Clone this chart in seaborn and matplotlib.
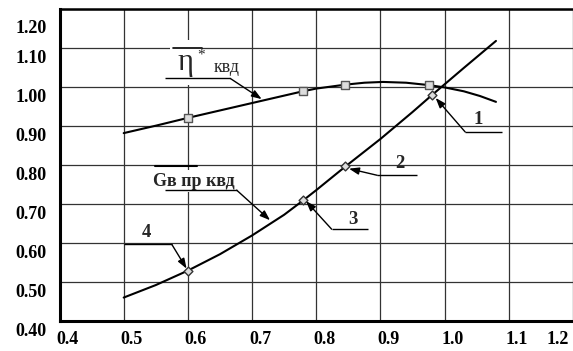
import numpy as np
import pandas as pd
import matplotlib
matplotlib.use("Agg")
import matplotlib.pyplot as plt
import matplotlib.transforms as mtransforms
import seaborn as sns

# ---- data ----
eta_x = [0.50, 0.55, 0.60, 0.65, 0.70, 0.75, 0.779, 0.80, 0.845, 0.875, 0.904, 0.94, 0.975, 1.00, 1.03, 1.055, 1.08]
eta_y = [0.881, 0.900, 0.920, 0.939, 0.958, 0.977, 0.988, 0.995, 1.005, 1.010, 1.012, 1.010, 1.004, 0.998, 0.988, 0.976, 0.961]
eta_mx = [0.60, 0.779, 0.845, 0.975]
eta_my = [0.920, 0.989, 1.005, 1.005]

g_x = [0.50, 0.55, 0.60, 0.65, 0.70, 0.75, 0.779, 0.80, 0.845, 0.90, 0.95, 0.98, 1.03, 1.08]
g_y = [0.460, 0.492, 0.529, 0.571, 0.619, 0.672, 0.708, 0.735, 0.795, 0.866, 0.935, 0.978, 1.048, 1.117]
g_mx = [0.60, 0.779, 0.845, 0.980]
g_my = [0.529, 0.710, 0.796, 0.978]

x_ticks = [0.4, 0.5, 0.6, 0.7, 0.8, 0.9, 1.0, 1.1, 1.2]
x_labels = ["0.4", "0.5", "0.6", "0.7", "0.8", "0.9", "1.0", "1.1", "1.2"]
y_ticks = [0.40, 0.50, 0.60, 0.70, 0.80, 0.90, 1.00, 1.10, 1.20]
y_labels = ["0.40", "0.50", "0.60", "0.70", "0.80", "0.90", "1.00", "1.10", "1.20"]

# ---- figure ----
sns.set_theme(style="white")
plt.rcParams['font.family'] = ['Liberation Serif', 'DejaVu Serif']

fig = plt.figure(figsize=(5.73, 3.51), dpi=100)
ax = fig.add_axes([59.5 / 573, 30 / 351, 1 - 59.5 / 573, (321 - 8.5) / 351])

df_eta = pd.DataFrame({"x": eta_x, "y": eta_y})
df_g = pd.DataFrame({"x": g_x, "y": g_y})
sns.lineplot(data=df_eta, x="x", y="y", ax=ax, color="black", lw=1.5, sort=False, zorder=3)
sns.lineplot(data=df_g, x="x", y="y", ax=ax, color="black", lw=1.5, sort=False, zorder=3)
sns.scatterplot(x=eta_mx, y=eta_my, ax=ax, marker="s", s=30, facecolor="#dddddd",
                edgecolor="#555555", linewidth=1.0, zorder=4)
sns.scatterplot(x=g_mx, y=g_my, ax=ax, marker="D", s=20, facecolor="#dddddd",
                edgecolor="#333333", linewidth=1.0, zorder=4)

ax.set_xlim(0.4, 1.2)
ax.set_ylim(0.4, 1.2)
ax.set_xticks(x_ticks)
ax.set_xticklabels(x_labels)
ax.set_yticks(y_ticks)
ax.set_yticklabels(y_labels)
ax.set_xlabel("")
ax.set_ylabel("")
ax.grid(True, color="#333333", lw=0.9)
ax.set_axisbelow(True)
ax.tick_params(length=0, labelsize=13, colors="black")
ax.tick_params(axis="y", pad=9)
ax.tick_params(axis="x", pad=7)
for lab in ax.get_xticklabels() + ax.get_yticklabels():
    lab.set_fontweight("bold")
    lab.set_family(["Liberation Serif", "DejaVu Serif"])

# offset tick labels as in the reference
for lab in ax.get_yticklabels():
    dy = -18 if lab.get_text() == "1.20" else -9
    lab.set_transform(lab.get_transform() + mtransforms.ScaledTranslation(0, dy / 100, fig.dpi_scale_trans))
for i, lab in enumerate(ax.get_xticklabels()):
    dx = 8 if i < 8 else -15
    lab.set_transform(lab.get_transform() + mtransforms.ScaledTranslation(dx / 100, 0, fig.dpi_scale_trans))

for s in ["left", "bottom"]:
    ax.spines[s].set_linewidth(2.2)
    ax.spines[s].set_color("black")
ax.spines["top"].set_linewidth(1.8)
ax.spines["top"].set_color("black")
ax.spines["right"].set_visible(False)

# ---- annotations ----
serif = ["Liberation Serif", "DejaVu Serif"]
white = dict(facecolor="white", edgecolor="none", pad=1.5)

# eta label
ax.text(0.597, 1.062, "η", fontsize=22, family=serif, ha="center", va="center",
        bbox=dict(facecolor="white", edgecolor="none", pad=6), zorder=5)
ax.text(0.620, 1.080, "*", fontsize=11, family=serif, ha="center", va="center", zorder=6)
ax.text(0.660, 1.050, "квд", fontsize=13, family=serif, ha="center", va="center",
        bbox=white, zorder=5)
ax.plot([0.577, 0.622], [1.098, 1.098], color="black", lw=1.2, zorder=6)

def leader(points, head):
    xs = [p[0] for p in points]
    ys = [p[1] for p in points]
    ax.plot(xs, ys, color="black", lw=1.0, zorder=6, solid_capstyle="butt")
    ax.annotate("", xy=head, xytext=points[-1],
                arrowprops=dict(arrowstyle="-|>,head_length=0.5,head_width=0.18",
                                color="black", lw=1.0, shrinkA=0, shrinkB=0), zorder=6)

leader([(0.564, 1.021), (0.666, 1.021)], (0.715, 0.968))

# G label
ax.text(0.546, 0.758, "Gв пр квд", fontsize=13, fontweight="bold", family=serif,
        ha="left", va="center", bbox=white, zorder=5)
ax.plot([0.549, 0.614], [0.797, 0.797], color="black", lw=1.5, zorder=6)
leader([(0.564, 0.735), (0.676, 0.735)], (0.728, 0.658))

# numbered labels
ax.text(0.535, 0.627, "4", fontsize=13.5, fontweight="bold", family=serif, ha="center", va="center", zorder=6)
leader([(0.500, 0.596), (0.575, 0.596)], (0.598, 0.534))

ax.text(0.857, 0.660, "3", fontsize=13.5, fontweight="bold", family=serif, ha="center", va="center", zorder=6)
leader([(0.880, 0.635), (0.824, 0.635)], (0.784, 0.707))

ax.text(0.930, 0.804, "2", fontsize=13.5, fontweight="bold", family=serif, ha="center", va="center", zorder=6)
leader([(0.957, 0.773), (0.895, 0.773)], (0.851, 0.790))

ax.text(1.052, 0.916, "1", fontsize=13.5, fontweight="bold", family=serif, ha="center", va="center", zorder=6)
leader([(1.089, 0.884), (1.032, 0.884)], (0.986, 0.971))

fig.savefig("out.png", dpi=100)
